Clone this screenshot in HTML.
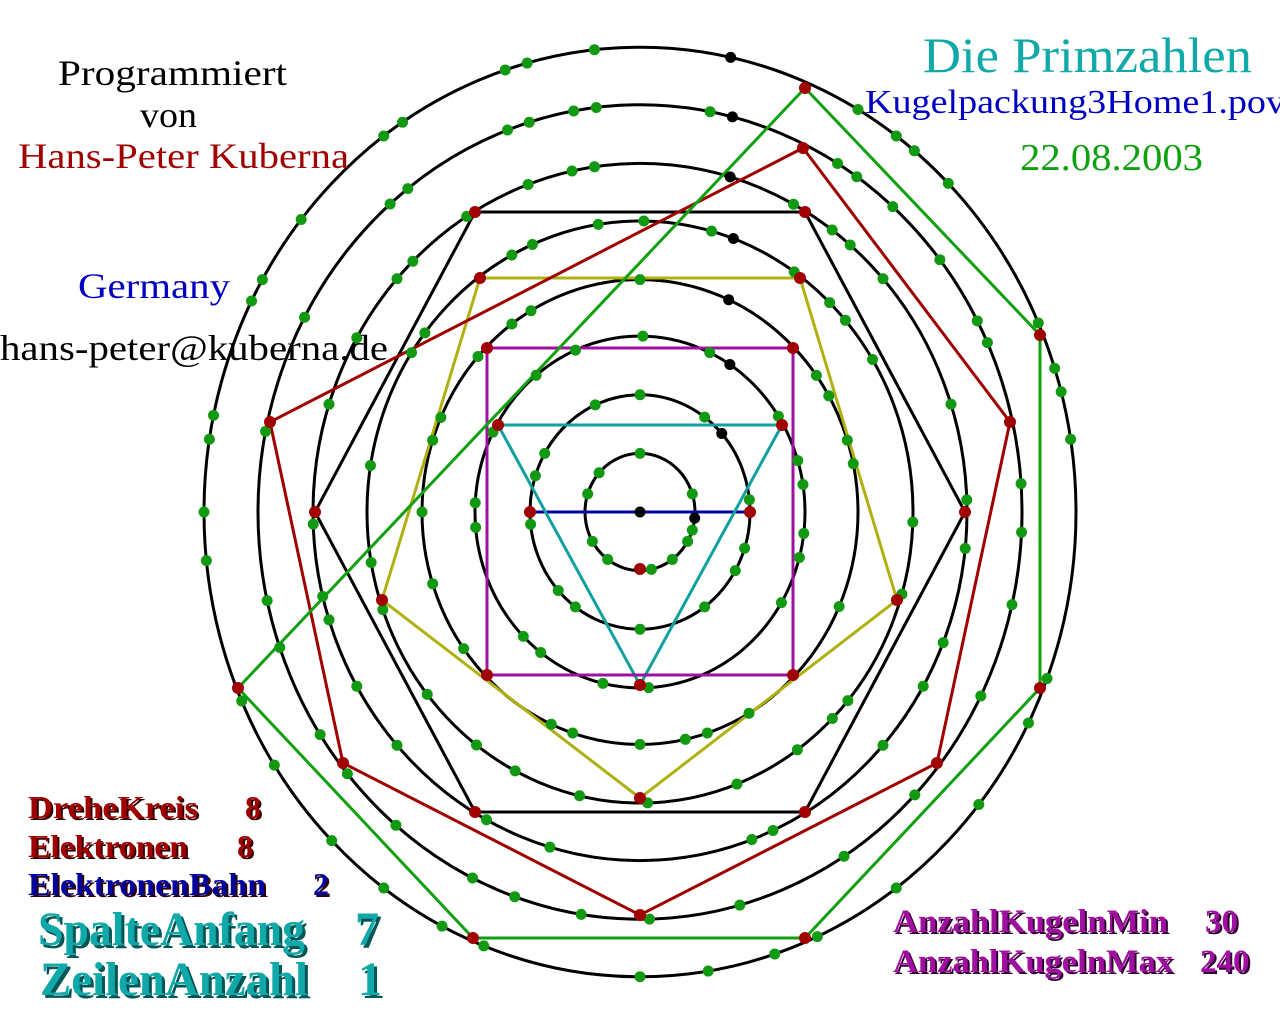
<!DOCTYPE html>
<html><head><meta charset="utf-8"><style>
html,body{margin:0;padding:0;background:#fff;width:1280px;height:1024px;overflow:hidden}
svg text{font-family:"Liberation Serif",serif}
</style></head><body>
<svg id="s" width="1280" height="1024" xmlns="http://www.w3.org/2000/svg">
<g id="rings" fill="none" stroke="#000" stroke-width="3"></g>
<g id="polys" fill="none" stroke-width="3">
<polyline stroke="#0000a0" points="530,512 750,512"/>
<polygon stroke="#10a0a0" points="498,425 782,425 640,685"/>
<polygon stroke="#a010a0" points="487,348 793,348 793,675 487,675"/>
<polygon stroke="#b0b010" points="480,278 800,278 897,600 640,798 382,600"/>
<polygon stroke="#000" points="475,212 805,212 965,512 805,812 475,812 315,512"/>
<polyline stroke="#a00000" points="803,148 1010,422 937,763 640,915 343,763 270,422 803,148"/>
<polyline stroke="#10a010" points="805,88 1040,335 1040,688 805,938 473,938 238,688 805,88"/>
</g>
<g id="dots"></g>
<g id="txt">
<text x="58" y="85" font-size="36" textLength="229" lengthAdjust="spacingAndGlyphs">Programmiert</text>
<text x="140" y="127" font-size="36" textLength="57" lengthAdjust="spacingAndGlyphs">von</text>
<text x="18" y="168" font-size="36" fill="#a00000" textLength="331" lengthAdjust="spacingAndGlyphs">Hans-Peter Kuberna</text>
<text x="78" y="298" font-size="36" fill="#0000c0" textLength="152" lengthAdjust="spacingAndGlyphs">Germany</text>
<text x="0" y="360" font-size="36" textLength="388" lengthAdjust="spacingAndGlyphs">hans-peter@kuberna.de</text>
<text x="923" y="72" font-size="50" fill="#10a8a8" textLength="329" lengthAdjust="spacingAndGlyphs">Die Primzahlen</text>
<text x="865" y="113" font-size="34" fill="#0000c0" textLength="420" lengthAdjust="spacingAndGlyphs">Kugelpackung3Home1.pov</text>
<text x="1020" y="170" font-size="38" fill="#10a010" textLength="183" lengthAdjust="spacingAndGlyphs">22.08.2003</text>
</g>
<g font-weight="bold">
<g fill="#300" transform="translate(2,2)">
<text x="28" y="818" font-size="32" textLength="170" lengthAdjust="spacingAndGlyphs">DreheKreis</text>
<text x="245" y="818" font-size="32">8</text>
<text x="28" y="857" font-size="32" textLength="160" lengthAdjust="spacingAndGlyphs">Elektronen</text>
<text x="237" y="857" font-size="32">8</text>
<text x="28" y="895" font-size="32" textLength="238" lengthAdjust="spacingAndGlyphs">ElektronenBahn</text>
<text x="313" y="895" font-size="32">2</text>
</g>
<text x="28" y="818" font-size="32" fill="#a00000" textLength="170" lengthAdjust="spacingAndGlyphs">DreheKreis</text>
<text x="245" y="818" font-size="32" fill="#a00000">8</text>
<text x="28" y="857" font-size="32" fill="#a00000" textLength="160" lengthAdjust="spacingAndGlyphs">Elektronen</text>
<text x="237" y="857" font-size="32" fill="#a00000">8</text>
<text x="28" y="895" font-size="32" fill="#0000a0" textLength="238" lengthAdjust="spacingAndGlyphs">ElektronenBahn</text>
<text x="313" y="895" font-size="32" fill="#0000a0">2</text>
<g fill="#055" transform="translate(3,3)">
<text x="38" y="945" font-size="48" textLength="267" lengthAdjust="spacingAndGlyphs">SpalteAnfang</text>
<text x="355" y="945" font-size="48">7</text>
<text x="40" y="995" font-size="48" textLength="268" lengthAdjust="spacingAndGlyphs">ZeilenAnzahl</text>
<text x="358" y="995" font-size="48">1</text>
</g>
<text x="38" y="945" font-size="48" fill="#10a8a8" textLength="267" lengthAdjust="spacingAndGlyphs">SpalteAnfang</text>
<text x="355" y="945" font-size="48" fill="#10a8a8">7</text>
<text x="40" y="995" font-size="48" fill="#10a8a8" textLength="268" lengthAdjust="spacingAndGlyphs">ZeilenAnzahl</text>
<text x="358" y="995" font-size="48" fill="#10a8a8">1</text>
<g fill="#303" transform="translate(2,2)">
<text x="893" y="932" font-size="33" textLength="275" lengthAdjust="spacingAndGlyphs">AnzahlKugelnMin</text>
<text x="1205" y="932" font-size="33">30</text>
<text x="893" y="972" font-size="33" textLength="280" lengthAdjust="spacingAndGlyphs">AnzahlKugelnMax</text>
<text x="1200" y="972" font-size="33">240</text>
</g>
<text x="893" y="932" font-size="33" fill="#a010a0" textLength="275" lengthAdjust="spacingAndGlyphs">AnzahlKugelnMin</text>
<text x="1205" y="932" font-size="33" fill="#a010a0">30</text>
<text x="893" y="972" font-size="33" fill="#a010a0" textLength="280" lengthAdjust="spacingAndGlyphs">AnzahlKugelnMax</text>
<text x="1200" y="972" font-size="33" fill="#a010a0">240</text>
</g>
</svg>
<script>
(function(){
var NS="http://www.w3.org/2000/svg",cx=640,cy=512;
var rx=[55,110,165,218,273,327,382,436],k=1.066;
var black=[6,-42,-57,-66,-70,-74,-76,-78];
var rings=document.getElementById('rings'),dots=document.getElementById('dots');
function isP(n){if(n<2)return false;for(var i=2;i*i<=n;i++)if(n%i==0)return false;return true;}
function dot(x,y,c,r){var e=document.createElementNS(NS,'circle');e.setAttribute('cx',x);e.setAttribute('cy',y);e.setAttribute('r',r||5.5);e.setAttribute('fill',c);dots.appendChild(e);}
var num=1;
for(var i=0;i<8;i++){
 var a=rx[i],b=rx[i]*k;
 var el=document.createElementNS(NS,'ellipse');el.setAttribute('cx',cx);el.setAttribute('cy',cy);el.setAttribute('rx',a);el.setAttribute('ry',b);rings.appendChild(el);
 var N=30*(i+1),step=360/N;
 for(var j=0;j<N;j++){
  var ang=(black[i]+j*step)*Math.PI/180;
  var x=cx+a*Math.cos(ang),y=cy+b*Math.sin(ang);
  if(j==0)dot(x,y,'#000');else if(isP(num+j))dot(x,y,'#119911');
 }
 num+=N;
}
var reds=[[530,512],[750,512],[640,569],[498,425],[782,425],[640,685],[487,348],[793,348],[793,675],[487,675],
[480,278],[800,278],[897,600],[640,798],[382,600],[475,212],[805,212],[965,512],[805,812],[475,812],[315,512],
[803,148],[1010,422],[937,763],[640,915],[343,763],[270,422],[805,88],[1040,335],[1040,688],[805,938],[473,938],[238,688]];
reds.forEach(function(p){dot(p[0],p[1],'#a00000',6);});
dot(640,512,'#000');
})();
</script>
</body></html>
